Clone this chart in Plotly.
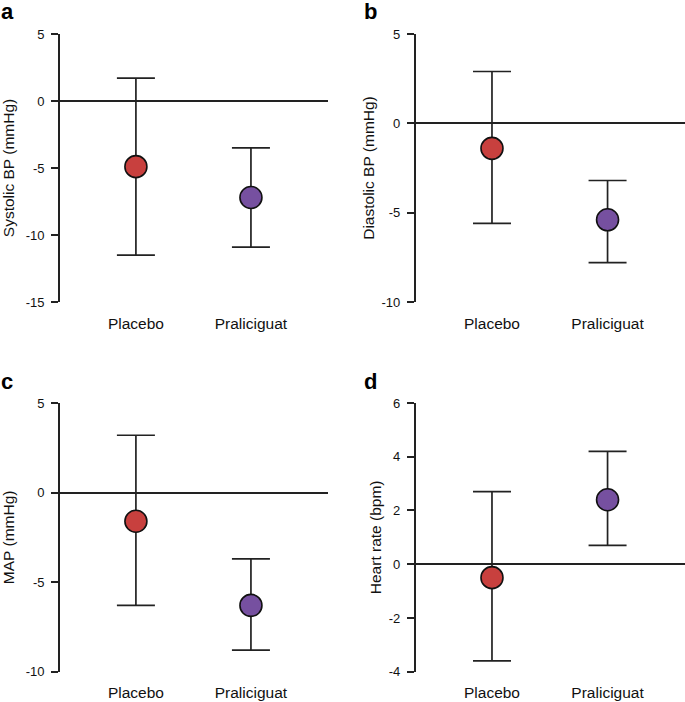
import plotly.graph_objects as go

groups = ["Placebo", "Praliciguat"]
colors = ["#c8403e", "#7650a0"]

sbp_mean = [-4.9, -7.2]
sbp_upper = [1.7, -3.5]
sbp_lower = [-11.5, -10.9]

dbp_mean = [-1.4, -5.4]
dbp_upper = [2.9, -3.2]
dbp_lower = [-5.6, -7.8]

map_mean = [-1.6, -6.3]
map_upper = [3.2, -3.7]
map_lower = [-6.3, -8.8]

hr_mean = [-0.5, 2.4]
hr_upper = [2.7, 4.2]
hr_lower = [-3.6, 0.7]

sbp_ticks = [-15, -10, -5, 0, 5]
dbp_ticks = [-10, -5, 0, 5]
map_ticks = [-10, -5, 0, 5]
hr_ticks = [-4, -2, 0, 2, 4, 6]

W, H = 685, 702
FONT = "Arial, Liberation Sans, sans-serif"

# panel: (letter, ytitle, mean, upper, lower, ticks, x-domain px, y-domain px, title standoff)
panels = [
    ("a", "Systolic BP (mmHg)", sbp_mean, sbp_upper, sbp_lower, sbp_ticks, (60, 328), (34, 302), 13),
    ("b", "Diastolic BP (mmHg)", dbp_mean, dbp_upper, dbp_lower, dbp_ticks, (415.7, 685), (34, 302), 3),
    ("c", "MAP (mmHg)", map_mean, map_upper, map_lower, map_ticks, (60, 328), (403, 671.7), 13),
    ("d", "Heart rate (bpm)", hr_mean, hr_upper, hr_lower, hr_ticks, (415.7, 685), (403, 671.7), 3),
]

fig = go.Figure()
layout = {}
annotations = []
for i, (letter, ytitle, mean, upper, lower, ticks, xd, yd, stand) in enumerate(panels):
    n = "" if i == 0 else str(i + 1)
    err_plus = [u - m for u, m in zip(upper, mean)]
    err_minus = [m - l for m, l in zip(mean, lower)]
    fig.add_trace(
        go.Scatter(
            x=[0, 1],
            y=mean,
            mode="markers",
            xaxis="x" + n,
            yaxis="y" + n,
            marker=dict(size=22, color=colors, line=dict(color="#111111", width=1.6)),
            error_y=dict(
                type="data",
                symmetric=False,
                array=err_plus,
                arrayminus=err_minus,
                color="#222222",
                thickness=1.7,
                width=19,
            ),
            showlegend=False,
        )
    )
    layout["xaxis" + n] = dict(
        domain=[xd[0] / W, xd[1] / W],
        range=[-0.66, 1.67],
        anchor="y" + n,
        automargin=False,
        tickmode="array",
        tickvals=[0, 1],
        ticktext=groups,
        ticks="outside",
        ticklen=7,
        tickcolor="rgba(0,0,0,0)",
        showline=False,
        showgrid=False,
        zeroline=False,
        tickfont=dict(size=15.5, color="#111111", family=FONT),
    )
    layout["yaxis" + n] = dict(
        domain=[1 - yd[1] / H, 1 - yd[0] / H],
        range=[ticks[0], ticks[-1]],
        anchor="x" + n,
        automargin=False,
        tickmode="array",
        tickvals=ticks,
        ticktext=[str(t) for t in ticks],
        ticks="outside",
        ticklen=7,
        tickwidth=1.6,
        tickcolor="#222222",
        showline=True,
        linecolor="#222222",
        linewidth=1.7,
        showgrid=False,
        zeroline=True,
        zerolinecolor="#222222",
        zerolinewidth=1.7,
        ticklabelstandoff=4,
        tickfont=dict(size=13, color="#111111", family=FONT),
        title=dict(text=ytitle, standoff=stand, font=dict(size=15.5, color="#111111", family=FONT)),
    )
    lx = 0 if xd[0] < 100 else 363
    ly = 25 if yd[0] < 100 else 395
    annotations.append(
        dict(
            text="<b>" + letter + "</b>",
            x=lx / W,
            y=1 - ly / H,
            xref="paper",
            yref="paper",
            xanchor="left",
            yanchor="bottom",
            borderpad=0,
            showarrow=False,
            font=dict(size=22, color="#000000", family=FONT),
        )
    )

fig.update_layout(
    width=W,
    height=H,
    margin=dict(l=0, r=0, t=0, b=0),
    paper_bgcolor="white",
    plot_bgcolor="white",
    annotations=annotations,
    **layout,
)

# the page's default body margin would shift the figure by 8px
fig.write_html(
    "out.html",
    config={"displayModeBar": False},
    post_script="document.body.style.margin='0';",
)
